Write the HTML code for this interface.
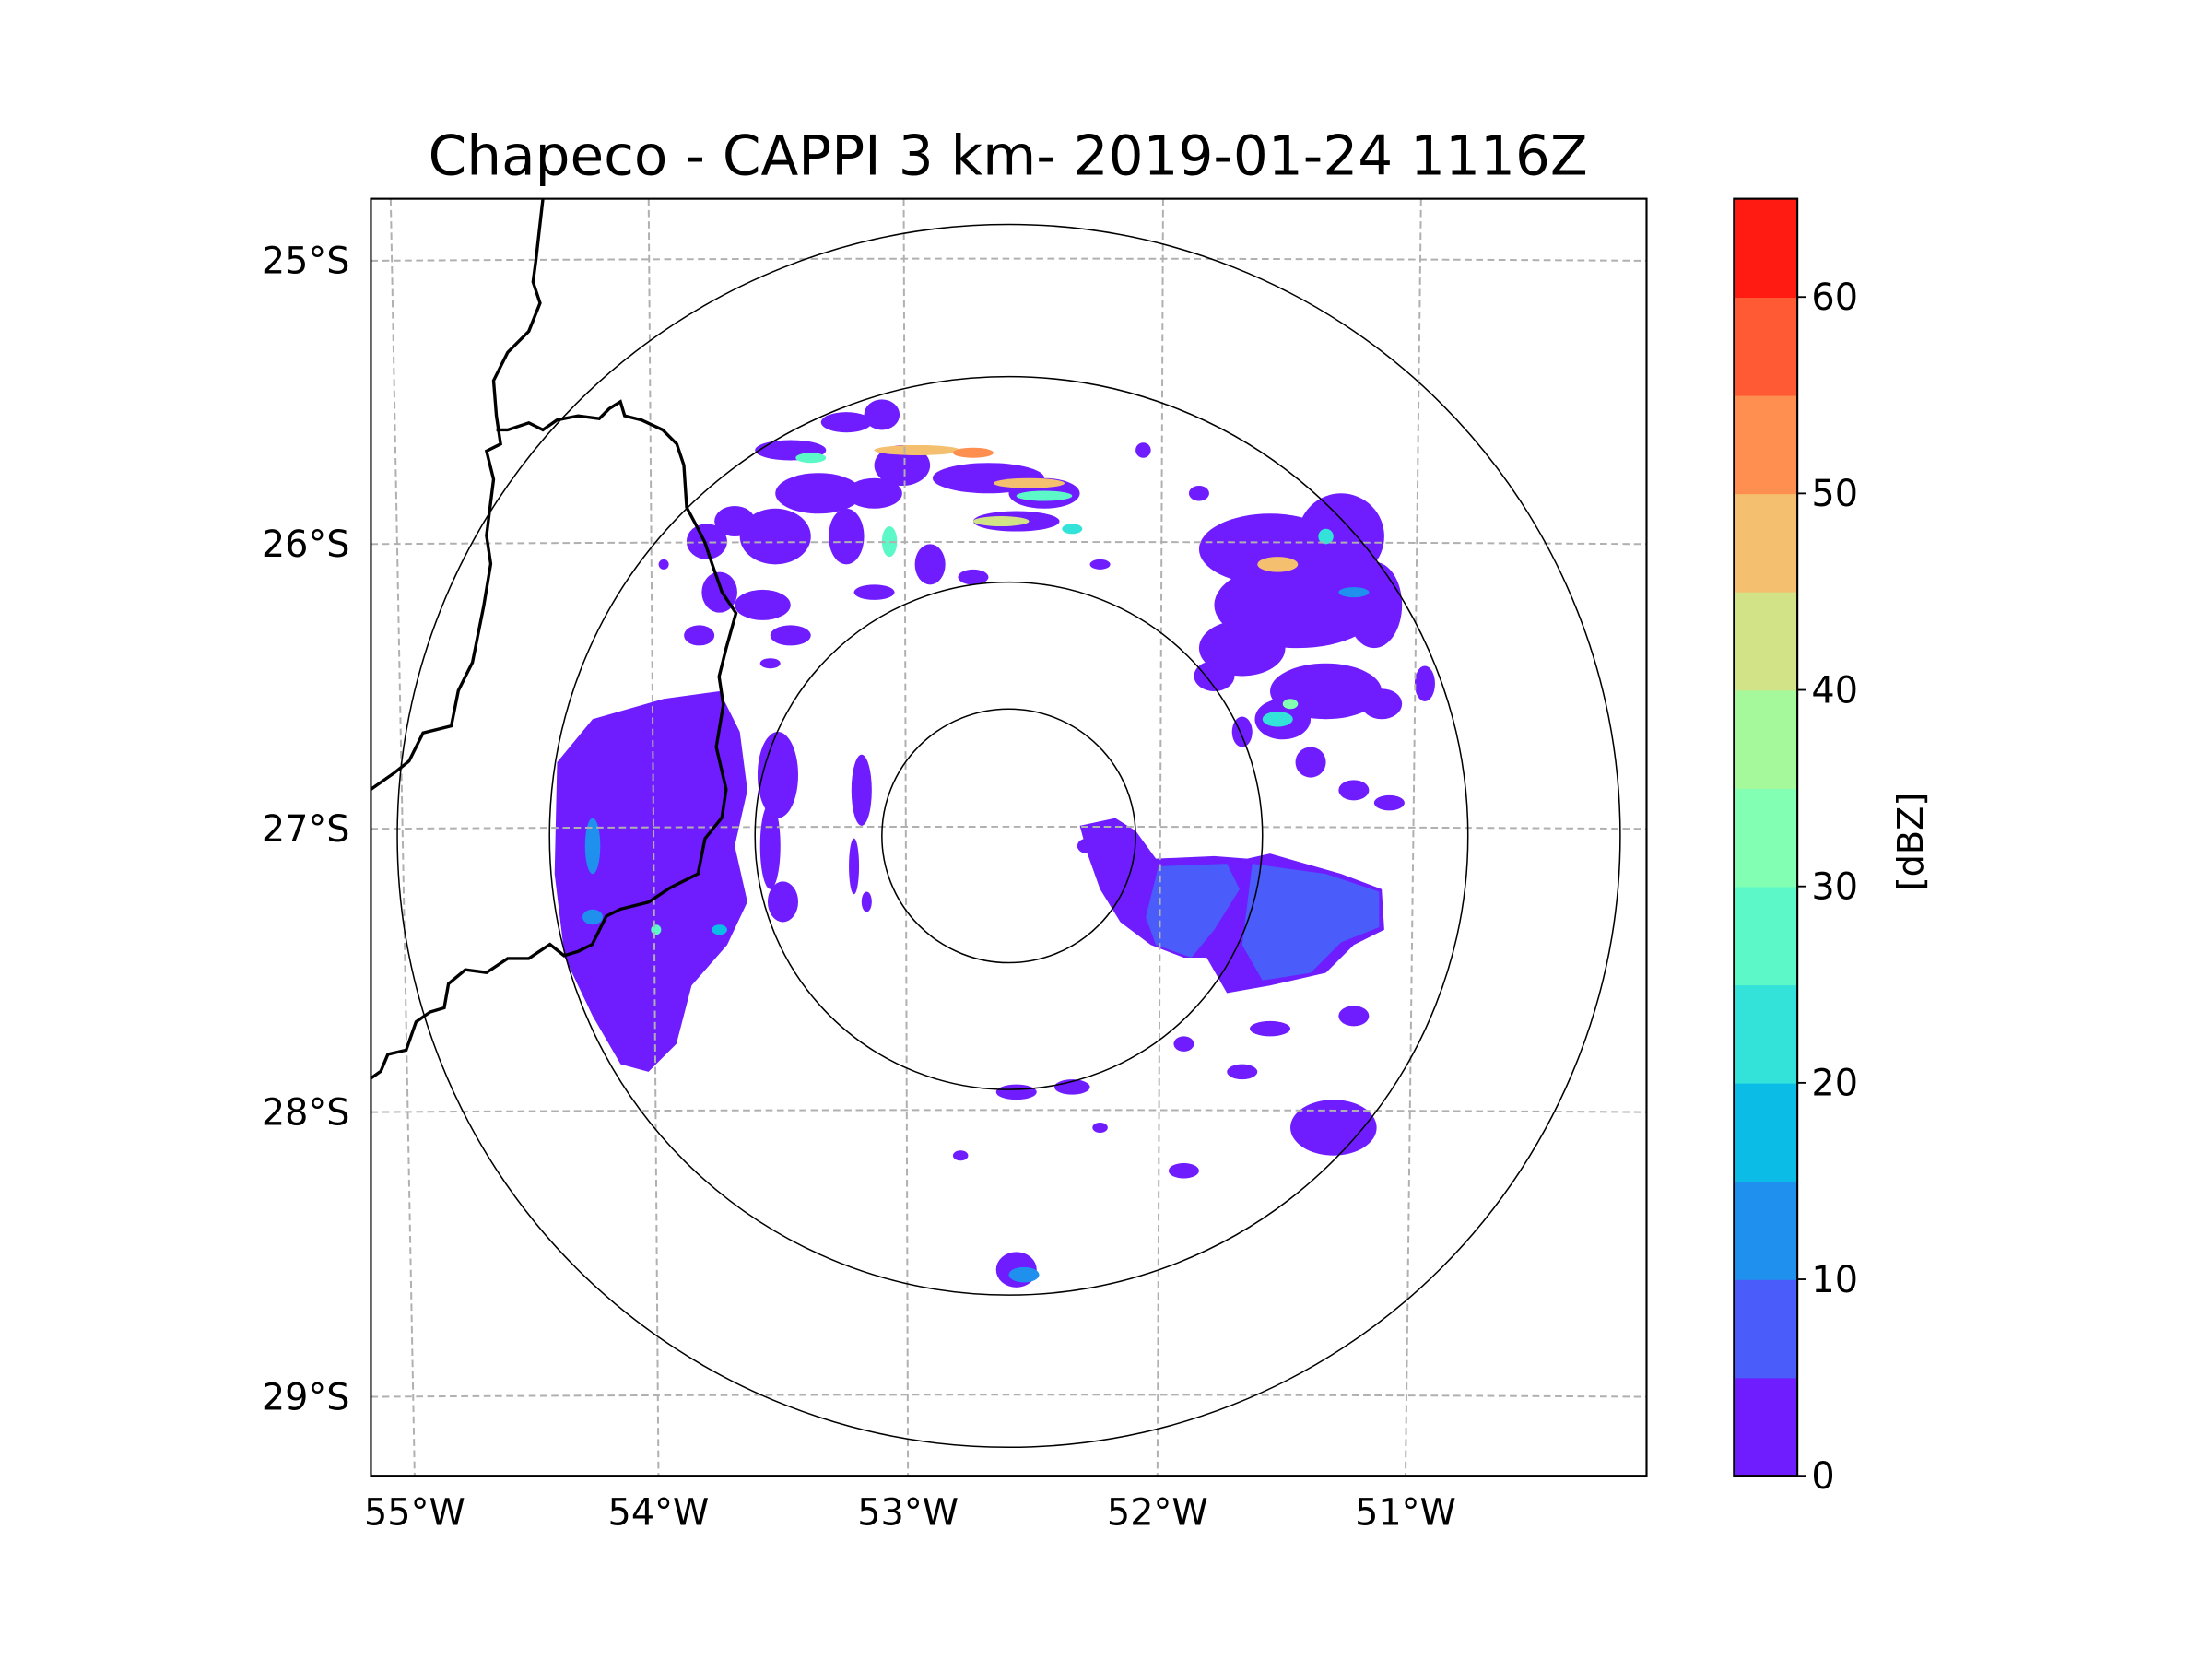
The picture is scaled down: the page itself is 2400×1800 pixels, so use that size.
<!DOCTYPE html>
<html><head><meta charset="utf-8"><style>
html,body{margin:0;padding:0;background:#fff;}
svg{display:block;}
text{font-family:"DejaVu Sans","Liberation Sans",sans-serif;fill:#000;}
</style></head><body>
<svg id="chart" width="2400" height="1800" viewBox="0 0 1569 1177" xmlns="http://www.w3.org/2000/svg">
<text x="715" y="124" font-size="39" text-anchor="middle">Chapeco - CAPPI 3 km- 2019-01-24 1116Z</text>
<defs><clipPath id="axclip"><rect x="263" y="141" width="905" height="906"/></clipPath></defs>
<g id="plot" clip-path="url(#axclip)">
  <g id="echoes"></g>
  <g id="grid"></g>
  <g id="rings"></g>
  <path fill="none" stroke="#000" stroke-width="2.2" d="M385,141 L380,185 378,200 383,215 375,235 360,250 350,270 352,295 355,315 345,320 350,340 345,380 348,400 343,430 335,470 325,490 320,515 300,520 290,540 280,548 263,560"/>
  <path fill="none" stroke="#000" stroke-width="2.2" d="M352,305 L360,305 375,300 385,305 395,298 410,295 425,297 432,290 440,285 443,295 455,298 470,305 480,315 485,330 487,360 495,375 500,385 505,400 512,420 522,435 515,460 510,480 513,500 508,530 515,560 512,580 500,595 495,620 475,630 460,640 440,645 430,650 420,670 410,675 400,678 390,670 375,680 360,680 345,690 330,688 318,698 315,715 305,718 295,725 288,745 275,748 270,760 263,765"/>
</g>
<rect x="263" y="141" width="905" height="906" fill="none" stroke="#000" stroke-width="1.4"/>
<g id="labels"></g>
<g id="cbar"></g>
<text x="0" y="0" font-size="25" text-anchor="middle" transform="translate(1364,597) rotate(-90)">[dBZ]</text>
</svg>
<script>
// ---- data ----
const levels = [0,5,10,15,20,25,30,35,40,45,50,55,60];
const levelColors = ["#6f1cff","#4a5cf9","#1f90ee","#0bbde6","#33e2d8","#5df8c7","#82ffb2","#a6f99b","#d2e287","#f4c06f","#ff8f50","#ff5a33","#ff1a12"];
const cbarTicks = [0,10,20,30,40,50,60];
const ringRadiiKm = [50,100,181,241];
const latLabels = ["25°S","26°S","27°S","28°S","29°S"];
const latY = [185,386,588,789,991];
const lonLabels = ["55°W","54°W","53°W","52°W","51°W"];
const lonTopX = [277,460,641,825,1008];
const lonBotX = [294,467,644,821,997];
// blobs: east km, north km, rx km, ry km, dBZ
const blobE = [-86,-64,-50,-42,-75,-92,-108,-114,-97,-31,-8,14,3,-53,-64,-86,-53,-14,36,53,75,
 103,114,92,131,144,125,108,147,164,136,150,119,81,92,
 -91,-94,-89,-58,-61,-56,
 3,25,3,128,69,92,-19,36,103,136,69,
 -119,-122,-136,-94,-169,31,
 -36,-14,8,14,-3,-78,-47,25,106,125,106,111,136,6,-139,-114,-164,-164];
const blobN = [152,163,166,146,135,118,124,96,91,107,141,135,124,135,118,79,96,102,107,152,135,
 113,91,74,118,91,57,46,52,60,18,13,29,63,41,
 24,-4,-26,18,-12,-26,
 -101,-99,-171,-115,-132,-93,-126,-115,-76,-71,-82,
 116,79,107,68,18,-4,
 152,151,139,134,124,149,116,121,107,118,46,52,96,-173,-37,-37,-4,-32];
const blobRx = [14,10,7,11,17,14,8,7,11,6,22,14,17,11,7,8,8,6,4,3,4,
 28,33,17,17,11,22,11,8,4,6,6,6,8,4,
 8,4,6,4,2,2,
 8,7,8,17,6,6,3,3,8,6,4,
 8,6,2,4,3,4,
 17,8,14,11,11,6,3,4,8,3,6,3,6,6,2,3,3,4];
const blobRy = [4,4,6,8,8,11,6,8,6,8,6,6,4,6,11,4,3,3,2,3,3,
 14,17,11,17,17,11,8,6,7,4,3,6,6,6,
 17,17,8,14,11,4,
 3,3,7,11,3,3,2,2,3,4,3,
 7,4,2,2,6,3,
 2,2,2,2,2,2,6,2,3,3,3,2,2,3,2,2,11,3];
const blobDbz = [0,0,0,0,0,0,0,0,0,0,0,0,0,0,0,0,0,0,0,0,0,
 0,0,0,0,0,0,0,0,0,0,0,0,0,0,
 0,0,0,0,0,0,
 0,0,0,0,0,0,0,0,0,0,0,
 0,0,0,0,0,0,
 45,50,45,25,40,25,25,20,45,20,20,30,10,10,25,15,10,10];
// polygon regions (km)
const westE = [-178,-164,-136,-114,-106,-103,-108,-103,-111,-125,-131,-142,-153,-164,-175,-179];
const westN = [29,46,54,57,41,18,-4,-26,-43,-59,-82,-93,-90,-71,-48,-15];
const westDbz = 0;
const bandE = [28,42,50,58,81,94,103,131,147,148,136,125,103,86,78,69,56,44,36,31];
const bandN = [4,7,2,-9,-8,-9,-7,-15,-21,-37,-43,-54,-59,-62,-48,-48,-43,-34,-21,-7];
const bandDbz = 0;
const blue1E = [59,86,91,81,72,58,54];
const blue1N = [-12,-11,-21,-37,-48,-43,-32];
const blue2E = [96,125,146,146,131,119,100,92];
const blue2N = [-11,-15,-22,-36,-42,-54,-57,-43];
const blueDbz = 5;

// ---- scales ----
const CX = 715.5, CY = 593, PXKM = 1.8;
const sx = e => CX + e*PXKM;
const sy = n => CY - n*PXKM;
const colorFor = v => { let i = 0; for (let k=0;k<levels.length;k++) if (v>=levels[k]) i=k; return levelColors[i]; };
const NS = "http://www.w3.org/2000/svg";
const mk = (t, attrs, parent) => { const el = document.createElementNS(NS, t); for (const k in attrs) el.setAttribute(k, attrs[k]); parent.appendChild(el); return el; };

const echoes = document.getElementById('echoes');
function poly(E, N, v, name) {
  const pts = E.map((e,i)=> sx(e)+','+sy(N[i])).join(' ');
  const p = mk('polygon', {points: pts, fill: colorFor(v)}, echoes);
  
  
}
poly(westE, westN, westDbz, 'west-echo-region');
poly(bandE, bandN, bandDbz, 'east-echo-band');
poly(blue1E, blue1N, blueDbz, 'east-echo-core-1');
poly(blue2E, blue2N, blueDbz, 'east-echo-core-2');
blobE.forEach((e,i) => {
  const el = mk('ellipse', {cx: sx(e), cy: sy(blobN[i]), rx: blobRx[i]*PXKM, ry: blobRy[i]*PXKM, fill: colorFor(blobDbz[i])}, echoes);
  
  
});

// graticule
const grid = document.getElementById('grid');
latY.forEach((y,i) => {
  const l = mk('path', {d: `M263,${y} Q715,${y-3} 1168,${y}`, fill:'none', stroke:'#b0b0b0', 'stroke-width':1.3, 'stroke-dasharray':'5,3'}, grid);
  
  
});
lonTopX.forEach((x,i) => {
  const l = mk('line', {x1:x, y1:141, x2:lonBotX[i], y2:1047, stroke:'#b0b0b0', 'stroke-width':1.3, 'stroke-dasharray':'5,3'}, grid);
  
  
});
// rings
const rings = document.getElementById('rings');
ringRadiiKm.forEach(r => {
  const c = mk('circle', {cx: CX, cy: CY, r: r*PXKM, fill:'none', stroke:'#000', 'stroke-width':1}, rings);
  
  
});
// axis labels
const labels = document.getElementById('labels');
latLabels.forEach((t,i) => {
  const el = mk('text', {x: 248, y: latY[i]+9, 'font-size': 26, 'text-anchor':'end'}, labels);
  el.textContent = t;
  
  
});
lonLabels.forEach((t,i) => {
  const el = mk('text', {x: lonBotX[i], y: 1082, 'font-size': 26, 'text-anchor':'middle'}, labels);
  el.textContent = t;
  
  
});
// colorbar
const cbar = document.getElementById('cbar');
const CB_X = 1230, CB_W = 45, CB_TOP = 141, CB_BOT = 1047, VMAX = 65;
const cy = v => CB_BOT - (v/VMAX)*(CB_BOT-CB_TOP);
levels.forEach((v,i) => {
  const r = mk('rect', {x: CB_X, y: cy(v+5), width: CB_W, height: cy(v)-cy(v+5)+0.5, fill: levelColors[i]}, cbar);
  
  
});
const fr = mk('rect', {x: CB_X, y: CB_TOP, width: CB_W, height: CB_BOT-CB_TOP, fill:'none', stroke:'#000', 'stroke-width':1.4}, cbar);


cbarTicks.forEach(v => {
  const tk = mk('line', {x1: CB_X+CB_W, x2: CB_X+CB_W+6, y1: cy(v), y2: cy(v), stroke:'#000', 'stroke-width':1.2}, cbar);
  
  
  const t = mk('text', {x: CB_X+CB_W+10, y: cy(v)+9, 'font-size': 26}, cbar);
  t.textContent = String(v);
  
  
});
</script>
</body></html>
